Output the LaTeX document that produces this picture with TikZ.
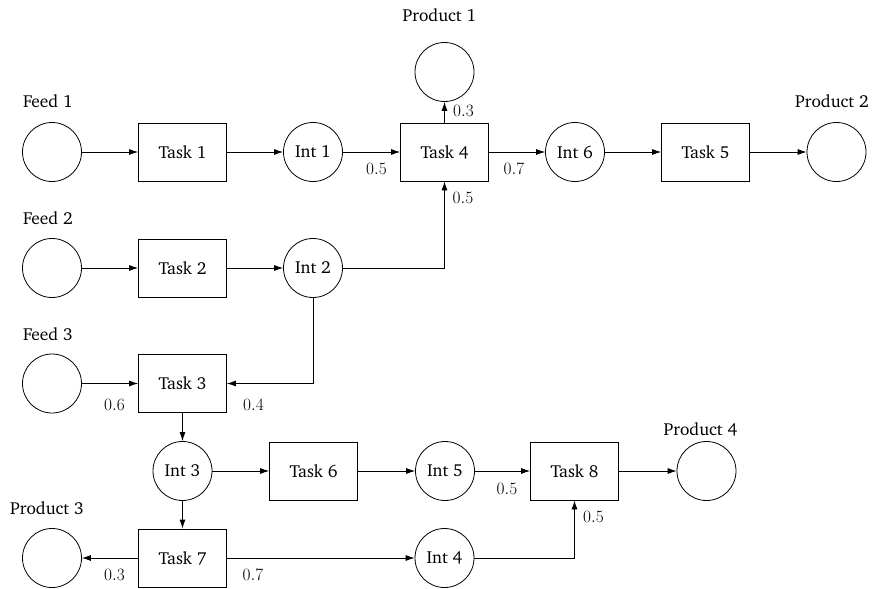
\documentclass[tikz,border=0pt]{standalone}
\usepackage[T1]{fontenc}
\usepackage{charter}
\usetikzlibrary{arrows.meta}
\begin{document}
\begin{tikzpicture}[x=1pt,y=-1pt,
  every node/.style={font=\fontsize{17.4}{20}\selectfont},
  circ/.style={draw, circle, minimum size=59pt, inner sep=0pt, line width=0.8pt},
  box/.style={draw, rectangle, minimum width=88pt, minimum height=58pt, inner sep=0pt, line width=0.8pt},
  lbl/.style={inner sep=0pt, anchor=base},
  flow/.style={-{Latex[length=9pt,width=6pt]}, line width=0.8pt},
]
\useasboundingbox (0,0) rectangle (873,589);
% row 1
\node[circ] (f1) at (52,152) {};
\node[box]  (t1) at (182.5,152) {Task 1};
\node[circ] (i1) at (313,152) {Int 1};
\node[box]  (t4) at (444.5,152) {Task 4};
\node[circ] (p1) at (444.5,72) {};
\node[circ] (i6) at (575,152) {Int 6};
\node[box]  (t5) at (705.5,152) {Task 5};
\node[circ] (p2) at (836.5,152) {};
% row 2
\node[circ] (f2) at (52,268) {};
\node[box]  (t2) at (182.5,268) {Task 2};
\node[circ] (i2) at (313,268) {Int 2};
% row 3
\node[circ] (f3) at (52,383.5) {};
\node[box]  (t3) at (182.5,383.5) {Task 3};
% row 4
\node[circ] (i3) at (182.5,471) {Int 3};
\node[box]  (t6) at (313.5,471) {Task 6};
\node[circ] (i5) at (445,471) {Int 5};
\node[box]  (t8) at (574.5,471) {Task 8};
\node[circ] (p4) at (706.5,471) {};
% row 5
\node[circ] (p3) at (52,558) {};
\node[box]  (t7) at (182.5,558) {Task 7};
\node[circ] (i4) at (444.5,558) {Int 4};
% titles
\node[lbl] (lf1) at (48,107) {Feed 1};
\node[lbl] (lf2) at (48,224) {Feed 2};
\node[lbl] (lf3) at (48,340) {Feed 3};
\node[lbl] (lp1) at (439.5,21) {Product 1};
\node[lbl] (lp2) at (832,107) {Product 2};
\node[lbl] (lp3) at (47,514) {Product 3};
\node[lbl] (lp4) at (700.5,435) {Product 4};
% fractions
\node[lbl] (e1) at (376.5,174) {$0.5$};
\node[lbl] (e2) at (463.5,116) {$0.3$};
\node[lbl] (e3) at (514,174) {$0.7$};
\node[lbl] (e4) at (463,203) {$0.5$};
\node[lbl] (e5) at (114.5,410) {$0.6$};
\node[lbl] (e6) at (253.5,410) {$0.4$};
\node[lbl] (e7) at (114.5,580) {$0.3$};
\node[lbl] (e8) at (253,580) {$0.7$};
\node[lbl] (e9) at (507,494) {$0.5$};
\node[lbl] (e10) at (593.5,522) {$0.5$};
% connectors
\draw[flow] (f1) -- (t1);
\draw[flow] (t1) -- (i1);
\draw[flow] (i1) -- (t4);
\draw[flow] (t4) -- (p1);
\draw[flow] (t4) -- (i6);
\draw[flow] (i6) -- (t5);
\draw[flow] (t5) -- (p2);
\draw[flow] (f2) -- (t2);
\draw[flow] (t2) -- (i2);
\draw[flow] (i2) -| (t4);
\draw[flow] (i2) |- (t3);
\draw[flow] (f3) -- (t3);
\draw[flow] (t3) -- (i3);
\draw[flow] (i3) -- (t6);
\draw[flow] (t6) -- (i5);
\draw[flow] (i5) -- (t8);
\draw[flow] (t8) -- (p4);
\draw[flow] (i3) -- (t7);
\draw[flow] (t7) -- (p3);
\draw[flow] (t7) -- (i4);
\draw[flow] (i4) -| (t8);
\end{tikzpicture}
\end{document}
